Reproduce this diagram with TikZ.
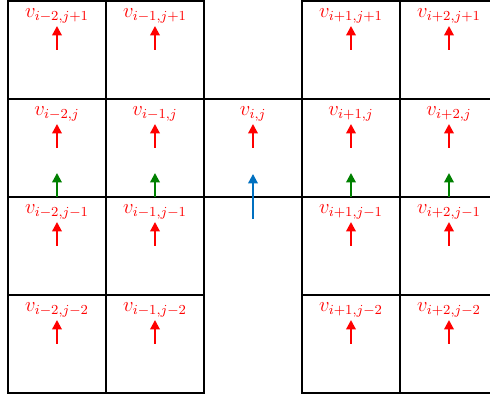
\documentclass[tikz,border=0pt]{standalone}
\usepackage{amsmath}
\usepackage{xcolor}
\usetikzlibrary{arrows.meta}
\definecolor{vred}{RGB}{255,0,0}
\definecolor{vgreen}{RGB}{0,128,0}
\definecolor{vblue}{RGB}{0,112,192}

\begin{document}
\begin{tikzpicture}[
  cell/.style={draw, line width=0.9pt},
  vlab/.style={anchor=base, inner sep=0pt, text=vred, font=\large},
  vec/.style={line width=1.2pt, -{Triangle[length=5.5pt,width=5.5pt]}}
]
\useasboundingbox (-0.163,0.02) rectangle (9.837,-8.08);
\clip (-0.163,0.03) rectangle (9.837,-8.08);
% Cells
\draw[cell, step=2cm] (0,-8) grid (4,0);
\draw[cell] (0,0) rectangle (4,-8);
\draw[cell, step=2cm] (6,-8) grid (10,0);
\draw[cell] (6,0) rectangle (10,-8);
\draw[cell] (4,-2) rectangle (6,-4);
% Row j+1
\node[vlab] (a1) at (1,-0.34) {$v_{i-2,j+1}$};
\node[vlab] (b1) at (3,-0.34) {$v_{i-1,j+1}$};
\node[vlab] (d1) at (7,-0.34) {$v_{i+1,j+1}$};
\node[vlab] (e1) at (9,-0.34) {$v_{i+2,j+1}$};
% Row j
\node[vlab] (a2) at (1,-2.34) {$v_{i-2,j}$};
\node[vlab] (b2) at (3,-2.34) {$v_{i-1,j}$};
\node[vlab] (c2) at (5,-2.34) {$v_{i,j}$};
\node[vlab] (d2) at (7,-2.34) {$v_{i+1,j}$};
\node[vlab] (e2) at (9,-2.34) {$v_{i+2,j}$};
% Row j-1
\node[vlab] (a3) at (1,-4.34) {$v_{i-2,j-1}$};
\node[vlab] (b3) at (3,-4.34) {$v_{i-1,j-1}$};
\node[vlab] (d3) at (7,-4.34) {$v_{i+1,j-1}$};
\node[vlab] (e3) at (9,-4.34) {$v_{i+2,j-1}$};
% Row j-2
\node[vlab] (a4) at (1,-6.34) {$v_{i-2,j-2}$};
\node[vlab] (b4) at (3,-6.34) {$v_{i-1,j-2}$};
\node[vlab] (d4) at (7,-6.34) {$v_{i+1,j-2}$};
\node[vlab] (e4) at (9,-6.34) {$v_{i+2,j-2}$};
% Vectors
\foreach \n in {a1,b1,d1,e1,a2,b2,c2,d2,e2,a3,b3,d3,e3,a4,b4,d4,e4}
  \draw[vec, vred] ([yshift=-0.66cm]\n.base) -- ([yshift=-0.17cm]\n.base);
\foreach \n in {a2,b2,d2,e2}
  \draw[vec, vgreen] ([yshift=-1.66cm]\n.base) -- ([yshift=-1.17cm]\n.base);
\draw[vec, vblue] ([yshift=-2.11cm]c2.base) -- ([yshift=-1.19cm]c2.base);
\end{tikzpicture}
\end{document}
